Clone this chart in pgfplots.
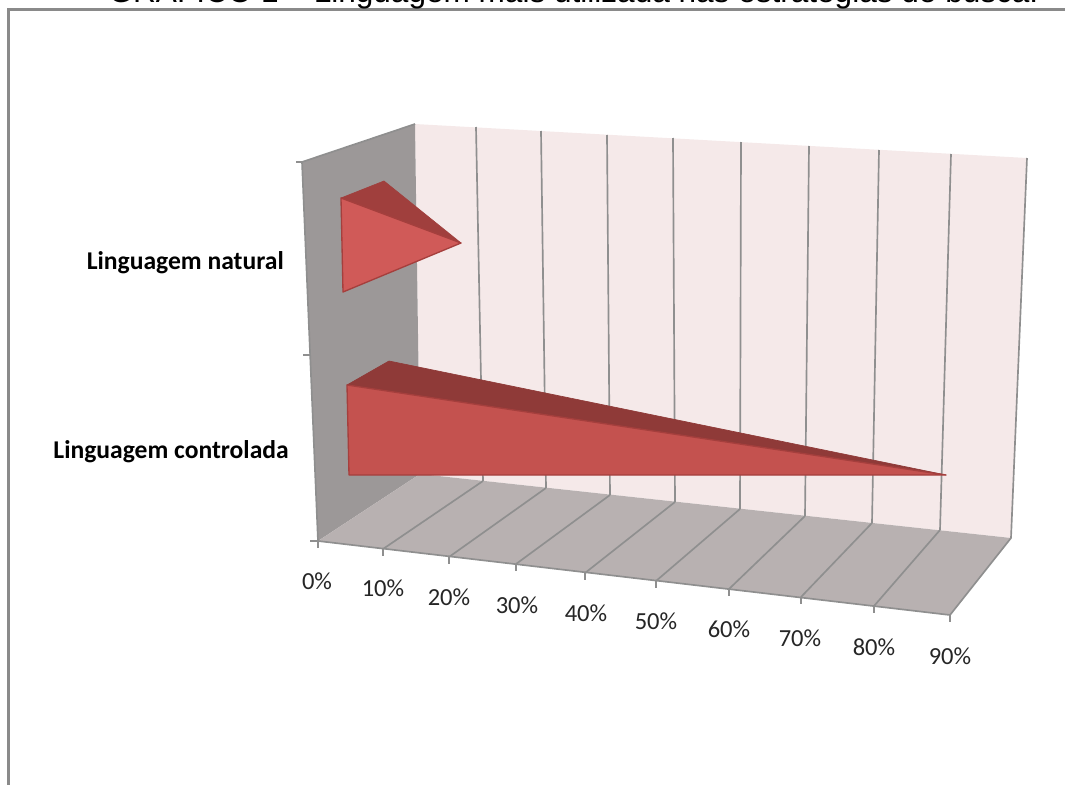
\documentclass[border=0pt]{standalone}
\usepackage{pgfplots}
\pgfplotsset{compat=1.18}
\usepackage{fontspec}
\setmainfont{Liberation Sans}
\newfontfamily\calibri{Carlito}
\definecolor{frameline}{HTML}{8A8A8A}
\definecolor{sidewall}{HTML}{9C9898}
\definecolor{backwall}{HTML}{F5E9E9}
\definecolor{floorgray}{HTML}{B8B1B1}
\definecolor{gridgray}{HTML}{8F8F8F}
\definecolor{barfrontA}{HTML}{D05A58}
\definecolor{bartopA}{HTML}{A03F3D}
\definecolor{barfrontB}{HTML}{C4524F}
\definecolor{bartopB}{HTML}{8F3A38}
\definecolor{baredge}{HTML}{A53F3D}
\definecolor{ticktext}{HTML}{262626}
\tikzset{
  gridseg/.style={gridgray, line width=1.25pt},
  tickseg/.style={gridgray, line width=1.25pt},
  ticklab/.style={font=\calibri\fontsize{18.4}{18.4}\selectfont, text=ticktext, anchor=center, inner sep=0pt},
  catlab/.style={font=\calibri\bfseries\fontsize{19.2}{19.2}\selectfont, text=black, anchor=base east, inner sep=0pt},
}
\begin{document}
\begin{tikzpicture}[x=0.75pt,y=0.75pt]
\path[use as bounding box] (0,0) rectangle (1065,785);
\begin{axis}[
  at={(0,0)}, anchor=south west,
  scale only axis, width=798.75pt, height=588.75pt,
  xmin=0, xmax=1065, ymin=0, ymax=785, y dir=reverse,
  hide axis, clip=false,
]
% walls and floor
\addplot[fill=backwall, draw=none] coordinates {(415,124) (1027,158) (1011,538) (420,474)} -- cycle;
\addplot[fill=sidewall, draw=none] coordinates {(302,162) (415,124) (420,474) (318,541)} -- cycle;
\addplot[fill=floorgray, draw=none] coordinates {(318,541) (420,474) (1011,538) (950,615)} -- cycle;
% outer edges of the box
\addplot[gridseg] coordinates {(302,162) (318,541) (950,615) (1011,538) (1027,158)};
\addplot[gridseg] coordinates {(302,162) (415,124)};
% value grid on the back wall
\addplot[gridseg] coordinates {(476,127) (483,481)};
\addplot[gridseg] coordinates {(541,131) (546,488)};
\addplot[gridseg] coordinates {(607,135) (610,495)};
\addplot[gridseg] coordinates {(673,138) (675,502)};
\addplot[gridseg] coordinates {(741,142) (740,509)};
\addplot[gridseg] coordinates {(809,146) (805,516)};
\addplot[gridseg] coordinates {(879,150) (872,523)};
\addplot[gridseg] coordinates {(951,154) (940,530)};
% value grid on the floor
\addplot[gridseg] coordinates {(383,549) (483,481)};
\addplot[gridseg] coordinates {(449,557) (546,488)};
\addplot[gridseg] coordinates {(516,564) (610,495)};
\addplot[gridseg] coordinates {(585,573) (675,502)};
\addplot[gridseg] coordinates {(656,581) (740,509)};
\addplot[gridseg] coordinates {(729,589) (805,516)};
\addplot[gridseg] coordinates {(801,597) (872,523)};
\addplot[gridseg] coordinates {(874,606) (940,530)};
% tick marks
\addplot[tickseg] coordinates {(296,162) (303,162)};
\addplot[tickseg] coordinates {(303,355) (311,355)};
\addplot[tickseg] coordinates {(310,541) (318,541)};
\addplot[tickseg] coordinates {(318,541) (318,548)};
\addplot[tickseg] coordinates {(383,549) (383,556)};
\addplot[tickseg] coordinates {(449,557) (449,564)};
\addplot[tickseg] coordinates {(516,564) (516,571)};
\addplot[tickseg] coordinates {(585,573) (585,580)};
\addplot[tickseg] coordinates {(656,581) (656,588)};
\addplot[tickseg] coordinates {(729,589) (729,596)};
\addplot[tickseg] coordinates {(801,597) (801,604)};
\addplot[tickseg] coordinates {(874,606) (874,613)};
\addplot[tickseg] coordinates {(950,615) (950,622)};
% Linguagem natural
\addplot[fill=bartopA, draw=bartopA, line width=0.5pt, line join=round] coordinates {(341,198) (384,181) (461,243)} -- cycle;
\addplot[fill=barfrontA, draw=baredge, line width=1pt, line join=round] coordinates {(341,198) (461,243) (343,292)} -- cycle;
% Linguagem controlada
\addplot[fill=bartopB, draw=bartopB, line width=0.5pt, line join=round] coordinates {(347,385) (389,361) (946,475)} -- cycle;
\addplot[fill=barfrontB, draw=baredge, line width=1pt, line join=round] coordinates {(347,385) (946,475) (349,475)} -- cycle;
% frame
\addplot[frameline, line width=1.9pt] coordinates {(8.5,785) (8.5,9.5) (1065,9.5)};
% title
\node[anchor=base, inner sep=0pt, font=\fontsize{23.67}{23.67}\selectfont] at (axis cs:573.5,2.5) {GRÁFICO 1 – Linguagem mais utilizada nas estratégias de busca.};
% category names
\node[catlab] at (axis cs:284,269) {Linguagem natural};
\node[catlab] at (axis cs:289,458) {Linguagem controlada};
% value axis labels
\node[ticklab] at (axis cs:317,581) {0\%};
\node[ticklab] at (axis cs:383,588) {10\%};
\node[ticklab] at (axis cs:449,597) {20\%};
\node[ticklab] at (axis cs:517,605) {30\%};
\node[ticklab] at (axis cs:586,613) {40\%};
\node[ticklab] at (axis cs:656,621) {50\%};
\node[ticklab] at (axis cs:729,629) {60\%};
\node[ticklab] at (axis cs:800,638) {70\%};
\node[ticklab] at (axis cs:874,647) {80\%};
\node[ticklab] at (axis cs:950,656) {90\%};
\end{axis}
\end{tikzpicture}
\end{document}
